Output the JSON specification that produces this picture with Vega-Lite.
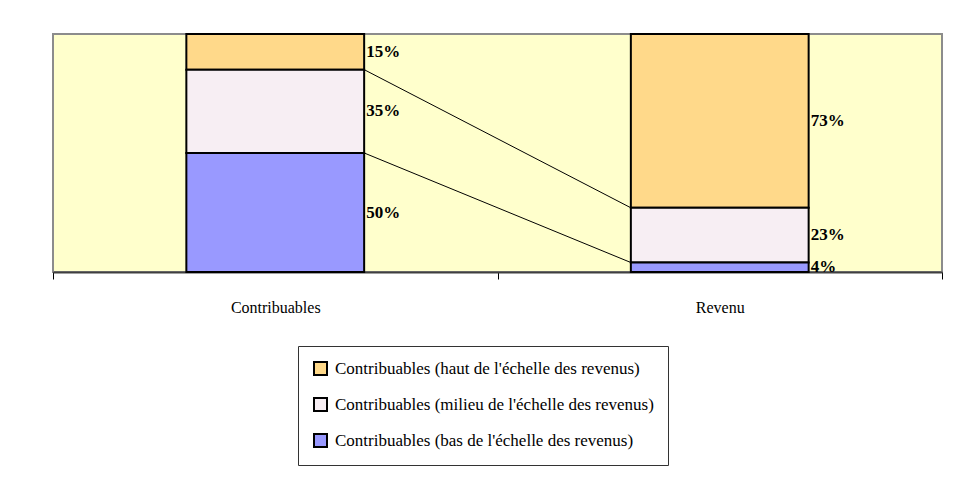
{
  "$schema": "https://vega.github.io/schema/vega-lite/v6.json",
  "width": 889,
  "height": 238,
  "autosize": {"type": "none"},
  "padding": {"left": 53, "top": 34, "right": 29, "bottom": 208},
  "background": "white",
  "config": {
    "view": {"fill": "#FFFFCC", "stroke": "#8C8C8C", "strokeWidth": 2},
    "font": "Liberation Serif"
  },
  "datasets": {
    "parts": [
      {"categorie": "Contribuables", "groupe": "Contribuables (haut de l'échelle des revenus)", "part": 0.15, "rang": 3},
      {"categorie": "Contribuables", "groupe": "Contribuables (milieu de l'échelle des revenus)", "part": 0.35, "rang": 2},
      {"categorie": "Contribuables", "groupe": "Contribuables (bas de l'échelle des revenus)", "part": 0.50, "rang": 1},
      {"categorie": "Revenu", "groupe": "Contribuables (haut de l'échelle des revenus)", "part": 0.73, "rang": 3},
      {"categorie": "Revenu", "groupe": "Contribuables (milieu de l'échelle des revenus)", "part": 0.23, "rang": 2},
      {"categorie": "Revenu", "groupe": "Contribuables (bas de l'échelle des revenus)", "part": 0.04, "rang": 1}
    ],
    "liens": [
      {"de": "Contribuables", "a": "Revenu", "debut": 0.85, "fin": 0.27},
      {"de": "Contribuables", "a": "Revenu", "debut": 0.50, "fin": 0.04}
    ]
  },
  "layer": [
    {
      "data": {"name": "parts"},
      "mark": {"type": "bar", "width": {"band": 0.4}, "stroke": "black", "strokeWidth": 2, "opacity": 1},
      "encoding": {
        "x": {
          "field": "categorie", "type": "nominal",
          "scale": {"domain": ["Contribuables", "Revenu"], "paddingInner": 0, "paddingOuter": 0},
          "axis": {
            "title": null, "labelAngle": 0, "tickBand": "extent",
            "domainColor": "#404040", "domainWidth": 2,
            "tickColor": "black", "tickWidth": 1, "tickSize": 7,
            "labelFont": "Liberation Serif", "labelFontSize": 16, "labelColor": "black",
            "labelPadding": 20
          }
        },
        "y": {
          "field": "part", "type": "quantitative", "stack": "zero",
          "scale": {"domain": [0, 1], "nice": false},
          "axis": null
        },
        "color": {
          "field": "groupe", "type": "nominal",
          "scale": {
            "domain": [
              "Contribuables (haut de l'échelle des revenus)",
              "Contribuables (milieu de l'échelle des revenus)",
              "Contribuables (bas de l'échelle des revenus)"
            ],
            "range": ["#FFD98A", "#F7EEF3", "#9999FF"]
          },
          "legend": {
            "title": null, "orient": "none", "legendX": 245, "legendY": 312,
            "direction": "vertical", "strokeColor": "#333333", "padding": 14,
            "symbolType": "square", "symbolSize": 169, "symbolStrokeColor": "black",
            "symbolStrokeWidth": 2, "symbolOpacity": 1,
            "labelFont": "Liberation Serif", "labelFontSize": 17, "labelColor": "black",
            "labelOffset": 6, "rowPadding": 15, "labelLimit": 600
          }
        },
        "order": {"field": "rang", "type": "quantitative"}
      }
    },
    {
      "data": {"name": "liens"},
      "mark": {"type": "rule", "color": "black", "strokeWidth": 1, "xOffset": 89, "x2Offset": -89},
      "encoding": {
        "x": {"field": "de", "type": "nominal"},
        "x2": {"field": "a"},
        "y": {"field": "debut", "type": "quantitative"},
        "y2": {"field": "fin"}
      }
    },
    {
      "data": {"name": "parts"},
      "transform": [
        {"stack": "part", "groupby": ["categorie"], "sort": [{"field": "rang", "order": "ascending"}], "as": ["y0", "y1"]},
        {"calculate": "(datum.y0 + datum.y1) / 2", "as": "milieu"}
      ],
      "mark": {"type": "text", "align": "left", "baseline": "middle", "xOffset": 91, "font": "Liberation Serif", "fontWeight": "bold", "fontSize": 17, "color": "black"},
      "encoding": {
        "x": {"field": "categorie", "type": "nominal"},
        "y": {"field": "milieu", "type": "quantitative"},
        "text": {"field": "part", "type": "quantitative", "format": ".0%"}
      }
    }
  ]
}
